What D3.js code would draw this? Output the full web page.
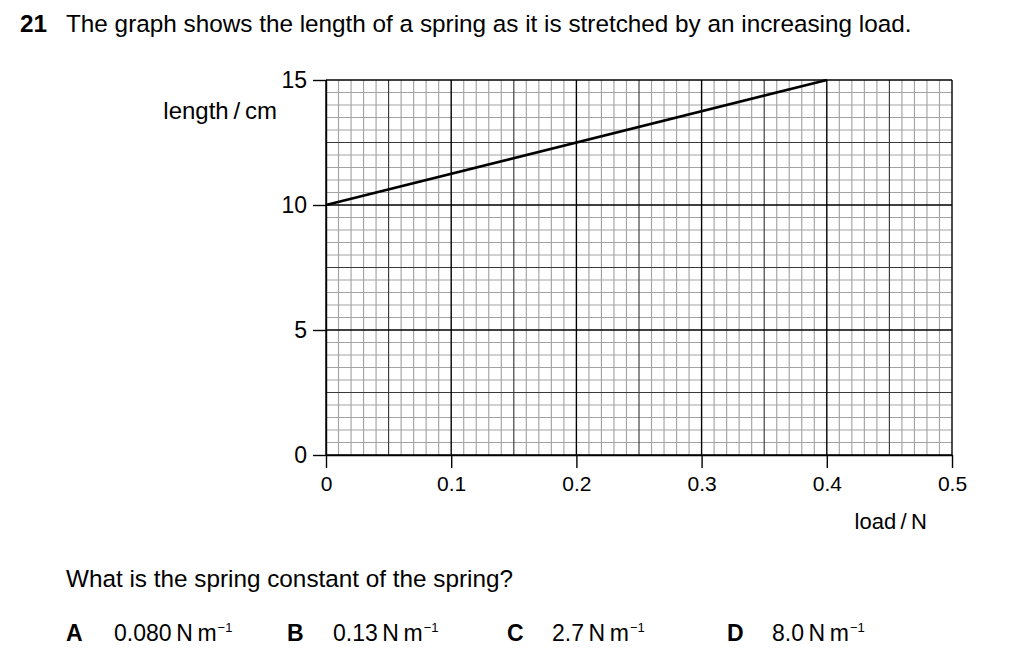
<!DOCTYPE html>
<html><head><meta charset="utf-8">
<script src="https://cdn.jsdelivr.net/npm/d3@7"></script>
<style>
html,body{margin:0;padding:0;background:#fff;}
text{font-family:"Liberation Sans",Arial,sans-serif;fill:#000;}
</style></head>
<body>
<svg id="c" width="1024" height="671"></svg>
<script>
// data
const loadN = [0, 0.4];
const lengthCm = [10, 15];
const xTicks = [0, 0.1, 0.2, 0.3, 0.4, 0.5];
const yTicks = [0, 5, 10, 15];
const questionNo = "21";
const questionText = "The graph shows the length of a spring as it is stretched by an increasing load.";
const subQuestion = "What is the spring constant of the spring?";
const optionLetters = ["A", "B", "C", "D"];
const optionValues = ["0.080", "0.13", "2.7", "8.0"];

const svg = d3.select("#c");
const x = d3.scaleLinear().domain([0, 0.5]).range([326, 952]);
const y = d3.scaleLinear().domain([0, 15]).range([455, 80]);

// grid
const g = svg.append("g");
const xMinor = d3.range(0, 51).map(i => i / 100);
const yMinor = d3.range(0, 31).map(i => i / 2);
function lvl(i){ return i % 10 === 0 ? 2 : (i % 5 === 0 ? 1 : 0); }
const styles = [["#a3a3a3", 1.15], ["#3a3a3a", 1.15], ["#000", 1.4]];
const lines = [];
xMinor.forEach((v, i) => lines.push({o: lvl(i), x1: x(v), x2: x(v), y1: y(0), y2: y(15)}));
yMinor.forEach((v, i) => lines.push({o: lvl(i), x1: x(0), x2: x(0.5), y1: y(v), y2: y(v)}));
lines.sort((a, b) => a.o - b.o);
g.selectAll("line").data(lines).join("line")
  .attr("x1", d => d.x1).attr("x2", d => d.x2).attr("y1", d => d.y1).attr("y2", d => d.y2)
  .attr("stroke", d => styles[d.o][0]).attr("stroke-width", d => styles[d.o][1]);

// axes
const xAxis = d3.axisBottom(x).tickValues(xTicks).tickSize(13).tickSizeOuter(0).tickPadding(8)
  .tickFormat(d => d === 0 ? "0" : d3.format(".1f")(d));
const yAxis = d3.axisLeft(y).tickValues(yTicks).tickSize(13).tickSizeOuter(0).tickPadding(6)
  .tickFormat(d3.format("d"));
const gx = svg.append("g").attr("transform", `translate(0,${y(0)})`).call(xAxis);
const gy = svg.append("g").attr("transform", `translate(${x(0)},0)`).call(yAxis);
[gx, gy].forEach(a => {
  a.selectAll(".domain").attr("stroke", "#000").attr("stroke-width", 1.4);
  a.selectAll(".tick line").attr("stroke", "#000").attr("stroke-width", 1.4);
  a.selectAll("text").attr("font-family", "Liberation Sans, Arial, sans-serif").attr("fill", "#000");
});
gx.selectAll("text").attr("font-size", 21);
gy.selectAll("text").attr("font-size", 23);

// data line
svg.append("path")
  .datum(loadN.map((d, i) => [d, lengthCm[i]]))
  .attr("d", d3.line().x(d => x(d[0])).y(d => y(d[1])))
  .attr("fill", "none").attr("stroke", "#000").attr("stroke-width", 2.6);

// axis labels
svg.append("text").attr("x", 277).attr("y", 119).attr("text-anchor", "end").attr("font-size", 24)
  .text("length\u2009/\u2009cm");
svg.append("text").attr("x", 927).attr("y", 529).attr("text-anchor", "end").attr("font-size", 22)
  .text("load\u2009/\u2009N");

// question text
svg.append("text").attr("x", 20).attr("y", 32).attr("font-size", 24.3).attr("font-weight", "bold").text(questionNo);
svg.append("text").attr("x", 66).attr("y", 32).attr("font-size", 24.3).text(questionText);
svg.append("text").attr("x", 66).attr("y", 587).attr("font-size", 24.3).text(subQuestion);

const letterX = [66, 287, 507, 727];
const valueX = [114, 333, 552, 772];
optionLetters.forEach((L, i) => {
  svg.append("text").attr("x", letterX[i]).attr("y", 641).attr("font-size", 23).attr("font-weight", "bold").text(L);
  const t = svg.append("text").attr("x", valueX[i]).attr("y", 641).attr("font-size", 23);
  t.append("tspan").text(optionValues[i] + "\u2009N\u2009m");
  t.append("tspan").attr("dx", 1).attr("dy", -9).attr("font-size", 13).text("\u22121");
});
</script>
</body></html>
